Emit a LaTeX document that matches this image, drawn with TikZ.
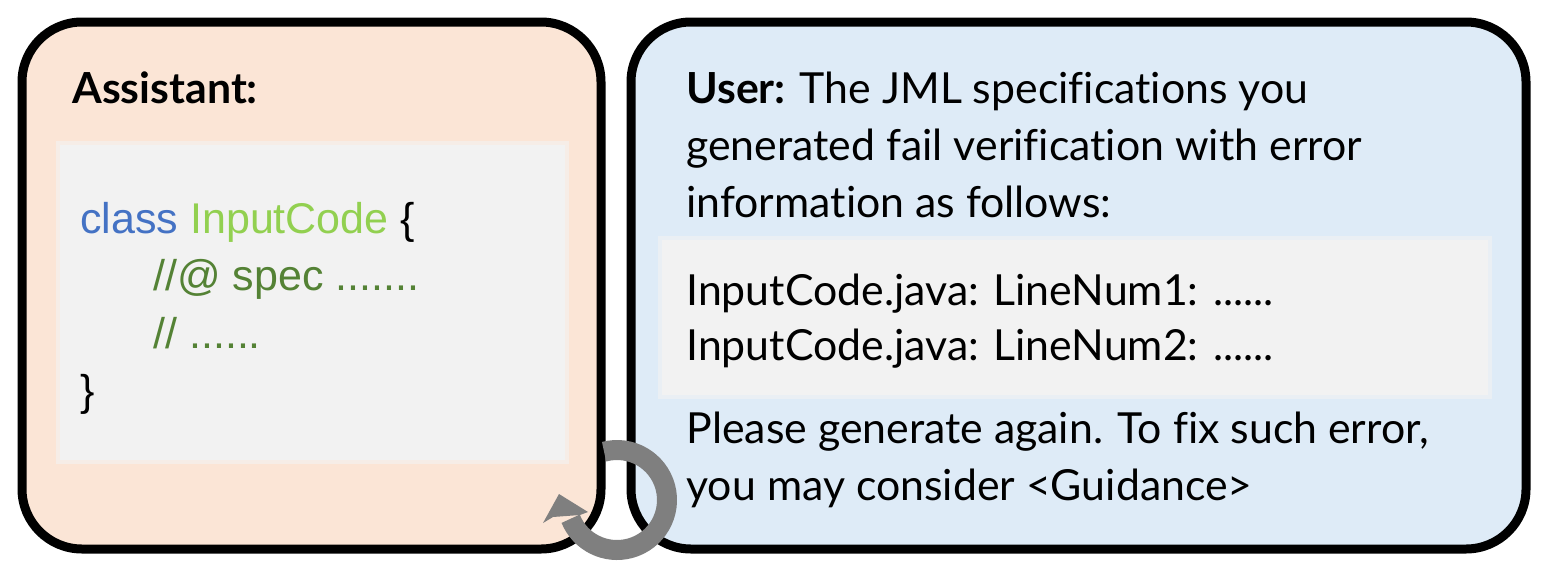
\documentclass[tikz,border=0pt]{standalone}
\usepackage{fontspec}
\setmainfont{Lato}[Ligatures=NoCommon]
\newfontfamily\codefont{Liberation Sans}
\definecolor{peach}{HTML}{FBE5D6}
\definecolor{skyblue}{HTML}{DEEBF7}
\definecolor{codegray}{HTML}{F2F2F2}
\definecolor{kwblue}{HTML}{4472C4}
\definecolor{clsgreen}{HTML}{92D050}
\definecolor{cmtgreen}{HTML}{548235}
\definecolor{loopgray}{HTML}{7F7F7F}
\begin{document}
\begin{tikzpicture}  % ------ Assistant / User feedback loop -------
      [x=0.5pt, y=-0.5pt,
       panel/.style={draw=black, line width=4.5pt, rounded corners=30pt},
       msg/.style={anchor=base west, inner sep=0pt, font=\fontsize{21.4}{25}\selectfont},
       code/.style={anchor=base west, inner sep=0pt, font=\codefont\fontsize{21.5}{25}\selectfont}]
    \useasboundingbox (0,0) rectangle (1546,573);
    \coordinate (ring) at (617,500);
    \coordinate (tip) at (559,494);
    \coordinate (barbL) at (543,523);
    \coordinate (barbR) at (588,512);

    \draw[panel, fill=peach] (22,22) rectangle (601,549);  % assistant
    \draw[panel, fill=skyblue] (631,22) rectangle (1526,549);  % user
    \fill[codegray!60!peach] (56,141) rectangle (569,464);
    \fill[codegray] (60,145) rectangle (565,460);
    \fill[codegray!60!skyblue] (658,236) rectangle (1492,399);
    \fill[codegray] (662,240) rectangle (1488,395);

    \node[msg] (asst) at (72,103) {\bfseries Assistant:};
    \node[code] (cls) at (80,233) {\color{kwblue}class \color{clsgreen}InputCode \color{black}\{};
    \node[code, text=cmtgreen] (spec) at (153,290) {//@ spec .......};
    \node[code, text=cmtgreen] (cmt) at (153,348) {// ......};
    \node[code] (close) at (80,405) {\}};

    \node[msg] (u1) at (686,103) {\bfseries User: \mdseries The JML specifications you};
    \node[msg] (u2) at (686,160) {generated fail verification with error};
    \node[msg] (u3) at (686,217) {information as follows:};
    \node[msg] (err1) at (686,305) {InputCode.java: LineNum1: ......};
    \node[msg] (err2) at (686,360) {InputCode.java: LineNum2: ......};
    \node[msg] (u4) at (686,443) {Please generate again. To fix such error,};
    \node[msg] (u5) at (686,500) {you may consider <Guidance>};

    \begin{scope}[shift={(ring)}, x=1pt, y=1pt]
      \draw[loopgray, line width=10pt] (105:25) arc[start angle=105, end angle=-158, radius=25];
    \end{scope}
    \fill[loopgray] (tip) -- (barbL) -- (553,517) -- (580,515) -- (barbR) -- cycle;
\end{tikzpicture}
\end{document}
